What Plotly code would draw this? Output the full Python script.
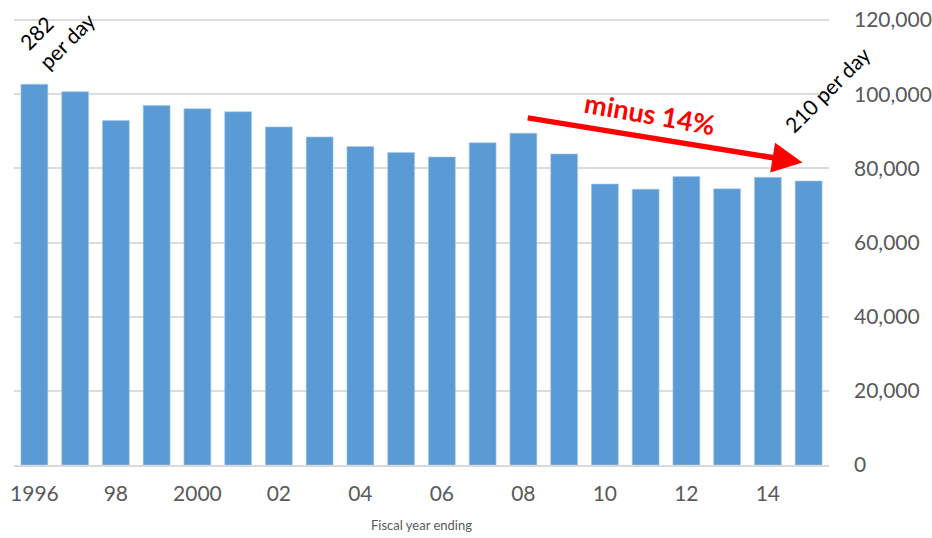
import plotly.graph_objects as go

# Annual totals by fiscal year
years = list(range(1996, 2016))
values = [102700, 100700, 92900, 97000, 96100, 95300, 91200, 88500, 85900, 84300,
          83100, 86900, 89500, 83900, 75800, 74400, 77800, 74500, 77600, 76600]

tick_years = list(range(1996, 2015, 2))
tick_text = ["1996", "98", "2000", "02", "04", "06", "08", "10", "12", "14"]

y_ticks = [0, 20000, 40000, 60000, 80000, 100000, 120000]

FONT = "Lato, 'Open Sans', sans-serif"
GREY = "#595959"
BAR = "#5b9bd5"

fig = go.Figure()
fig.add_trace(go.Bar(
    x=years, y=values,
    marker=dict(color=BAR, line=dict(width=0.6, color="#a8c9ea")),
    hoverinfo="x+y",
))

fig.update_layout(
    width=932, height=538,
    margin=dict(l=14, r=103, t=19, b=73),
    paper_bgcolor="white", plot_bgcolor="white",
    bargap=0.34,
    showlegend=False,
    font=dict(family=FONT, color=GREY),
)

fig.update_xaxes(
    range=[1995.5, 2015.5],
    tickmode="array", tickvals=tick_years, ticktext=tick_text,
    tickfont=dict(size=21, color=GREY),
    showgrid=False, zeroline=False,
    showline=True, linecolor="#d9d9d9", linewidth=1.5,
    ticks="", ticklabelstandoff=9,
    title=dict(text="Fiscal year ending", font=dict(size=13, color=GREY), standoff=17),
    automargin=False,
)

fig.update_yaxes(
    side="right",
    range=[0, 120300],
    tickmode="array", tickvals=y_ticks,
    tickformat=",d",
    tickfont=dict(size=21, color=GREY),
    showgrid=True, gridcolor="#dcdcdc", gridwidth=1.5,
    zeroline=False, showline=False, ticks="",
    ticklabelstandoff=24,
    automargin=False,
)

# Daily-rate notes at the start and end of the series
fig.add_annotation(
    x=1996.55, y=117000,
    text="282<br>per day", showarrow=False, textangle=-45,
    font=dict(family=FONT, size=21, color="black"), align="left",
)
fig.add_annotation(
    x=2015.45, y=101300,
    text="210 per day", showarrow=False, textangle=-45,
    font=dict(family=FONT, size=21, color="black"),
)

# Decline arrow from 2008 to the last year
fig.add_annotation(
    x=2014.85, y=81600, ax=2008.07, ay=93700,
    xref="x", yref="y", axref="x", ayref="y",
    text="", showarrow=True,
    arrowhead=2, arrowsize=1.1, arrowwidth=5.5, arrowcolor="#ff0000",
)
fig.add_annotation(
    x=2011.1, y=94900,
    text="<b>minus 14%</b>", showarrow=False, textangle=10,
    font=dict(family=FONT, size=27, color="#ff0000"),
)

fig.write_html("out.html")
